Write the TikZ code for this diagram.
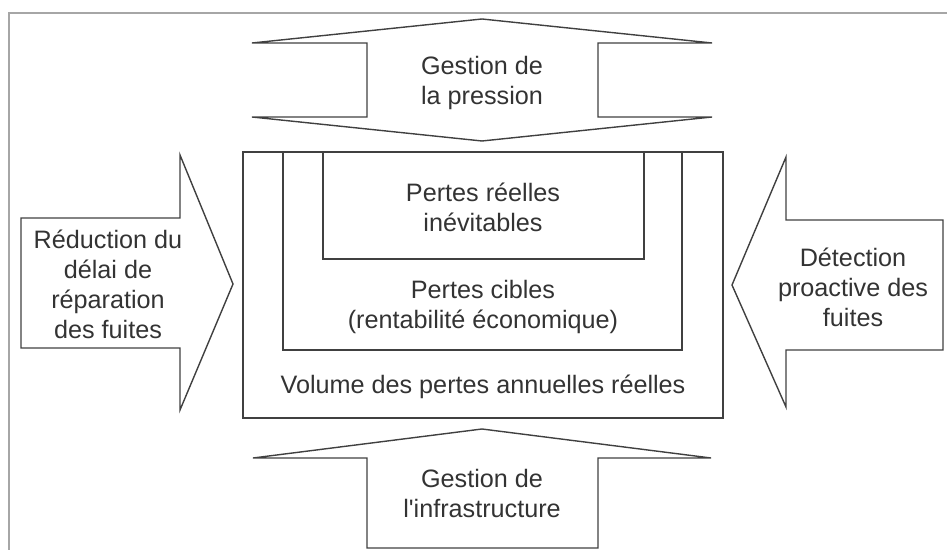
\documentclass[tikz,border=0pt]{standalone}
\usepackage{fontspec}
\setmainfont{Liberation Sans}
\begin{document}
\begin{tikzpicture}[x=0.5pt, y=-0.5pt,
  outline/.style={draw=black!75, line width=0.7pt, line join=miter},
  caption/.style={align=center, text=black!80, inner sep=0pt,
    font=\fontsize{12.6}{15}\selectfont}]
  \useasboundingbox (0, 0) rectangle (947, 550);
  \draw[black!35, line width=1pt] (9, 550) -- (9, 13) -- (947, 13);

  \draw[outline] (482, 19) -- (712, 43) -- (598, 43) -- (598, 117) -- (712, 117)
    -- (482, 141) -- (252, 117) -- (367, 117) -- (367, 43) -- (252, 43) -- cycle;
  \node[caption] (pression) at (482, 83) {Gestion de\\la pression};

  \draw[outline] (482, 429) -- (711, 458) -- (598, 458) -- (598, 548)
    -- (367, 548) -- (367, 458) -- (253, 458) -- cycle;
  \node[caption] (infra) at (482, 493) {Gestion de\\l\textquotesingle infrastructure};

  \draw[outline] (21, 218) -- (180, 218) -- (180, 155) -- (233, 284)
    -- (180, 410) -- (180, 348) -- (21, 348) -- cycle;
  \node[caption] (reduction) at (108, 284) {Réduction du\\délai de\\réparation\\des fuites};

  \draw[outline] (943, 220) -- (786, 220) -- (786, 157) -- (732, 285)
    -- (786, 407) -- (786, 350) -- (943, 350) -- cycle;
  \node[caption] (detection) at (853, 287) {Détection\\proactive des\\fuites};

  \draw[outline] (243, 152) rectangle (723, 418);
  \draw[outline] (283, 152) rectangle (682, 350);
  \draw[outline] (323, 152) rectangle (644, 259);
  \node[caption] (inevitables) at (483, 207) {Pertes réelles\\inévitables};
  \node[caption] (cibles) at (483, 307) {Pertes cibles\\(rentabilité économique)};
  \node[caption] (volume) at (483, 387) {Volume des pertes annuelles réelles};
\end{tikzpicture}
\end{document}
